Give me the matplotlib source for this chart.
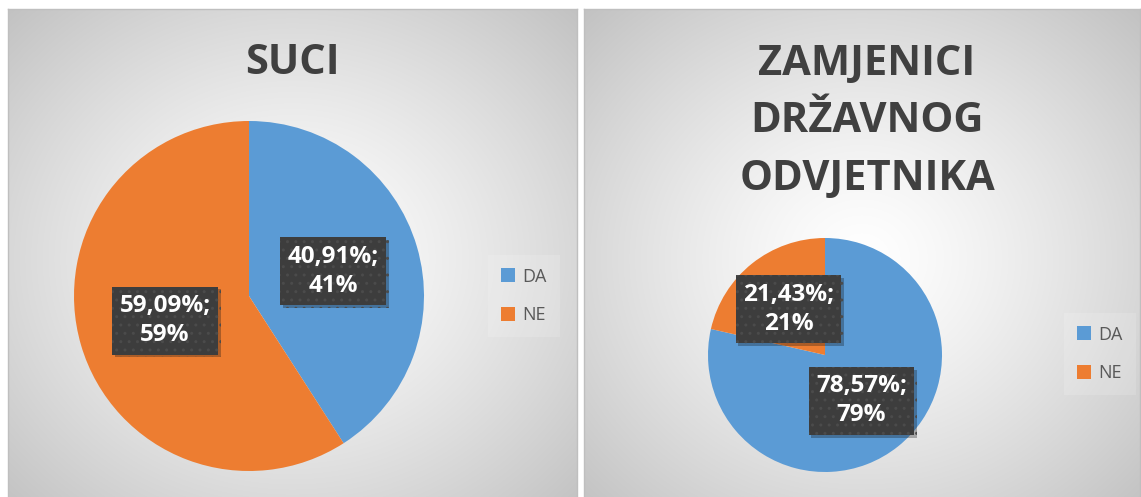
import numpy as np
import matplotlib.pyplot as plt
import matplotlib.patheffects as pe

# data
labels = ["DA", "NE"]
suci_pct = [40.91, 59.09]
zamj_pct = [78.57, 21.43]
title_left = ["SUCI"]
title_right = ["ZAMJENICI", "DRŽAVNOG", "ODVJETNIKA"]
colors = ["#5B9BD5", "#ED7D31"]

W, H = 1141, 497
fig = plt.figure(figsize=(W / 100, H / 100), dpi=100)
fig.patch.set_facecolor("white")


def px_axes(x0, y0, x1, y1):
    # pixel box (top-left origin) -> figure axes
    return fig.add_axes([x0 / W, 1 - y1 / H, (x1 - x0) / W, (y1 - y0) / H])


def background(x0, y0, x1, y1):
    ax = px_axes(x0, y0, x1, y1)
    nx, ny = int(x1 - x0), int(y1 - y0)
    xx, yy = np.meshgrid(np.linspace(-1, 1, nx), np.linspace(-1, 1, ny))
    r = np.sqrt(xx ** 2 + yy ** 2) / np.sqrt(2)
    v = 1.0 - 0.24 * r ** 1.3
    ax.imshow(np.dstack([v, v, v]), aspect="auto", extent=(0, 1, 0, 1))
    ax.set_xlim(0, 1)
    ax.set_ylim(0, 1)
    ax.set_xticks([])
    ax.set_yticks([])
    for s in ax.spines.values():
        s.set_color("#bfbfbf")
        s.set_linewidth(1)
    return ax


def fmt(p):
    return "{:.2f}%;\n{:.0f}%".format(p, p).replace(".", ",")


def pie_panel(cx, cy, rad, pct):
    ax = px_axes(cx - rad, cy - rad, cx + rad, cy + rad)
    wedges, texts, autotexts = ax.pie(
        pct, colors=colors, startangle=90, counterclock=False,
        autopct=lambda p: fmt(p), pctdistance=0.5,
        wedgeprops=dict(linewidth=0))
    for t in autotexts:
        t.set_color("white")
        t.set_fontsize(17.5)
        t.set_fontweight("bold")
        t.set_fontfamily("Open Sans")
        t.set_linespacing(1.3)
        t.set_bbox(dict(boxstyle="square,pad=0.3", fc="#3d3d3d",
                        ec="#4b4b4b", lw=0, hatch=".."))
        t.get_bbox_patch().set_path_effects(
            [pe.SimplePatchShadow(offset=(2, -2), alpha=0.3), pe.Normal()])
    ax.set_xlim(-1, 1)
    ax.set_ylim(-1, 1)
    ax.set_aspect("equal")
    ax.axis("off")
    return ax, wedges


def add_legend(ax, wedges, x_left, y_mid):
    leg = ax.legend(wedges, labels, loc="center left",
                    bbox_to_anchor=(x_left / W, 1 - y_mid / H),
                    bbox_transform=fig.transFigure,
                    prop={"family": "Open Sans", "size": 13},
                    handlelength=0.8, handleheight=0.8, handletextpad=0.4,
                    labelspacing=1.15, borderpad=0.72, borderaxespad=0,
                    frameon=True, fancybox=False)
    leg.get_frame().set_facecolor("white")
    leg.get_frame().set_alpha(0.15)
    leg.get_frame().set_edgecolor("none")
    for t in leg.get_texts():
        t.set_color("#595959")


background(8, 9, 577, 510)
background(584, 9, 1140, 510)

ax1, w1 = pie_panel(249, 296, 175, suci_pct)
ax2, w2 = pie_panel(825, 355, 117, zamj_pct)

add_legend(ax1, w1, 488, 296)
add_legend(ax2, w2, 1064, 354)

title_kw = dict(fontsize=30, fontweight="bold", color="#404040",
                family="Open Sans", ha="center", va="baseline")
fig.text(292 / W, 1 - 74 / H, title_left[0], **title_kw)
for i, line in enumerate(title_right):
    fig.text(867 / W, 1 - (75 + 57.5 * i) / H, line, **title_kw)

fig.savefig("out.png", dpi=100)
